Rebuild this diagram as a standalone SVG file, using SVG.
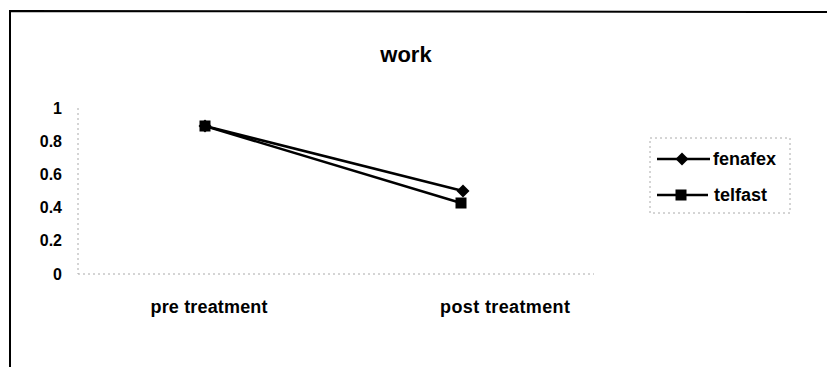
<svg xmlns="http://www.w3.org/2000/svg" width="827" height="367" viewBox="0 0 827 367">
<style>
  text { font-family: "Liberation Sans", Arial, sans-serif; fill: #000; }
  .lbl { font-size: 16px; font-weight: bold; text-anchor: end; }
  .cat { font-size: 18px; font-weight: bold; text-anchor: middle; }
  .leg { font-size: 18px; font-weight: bold; }
  .title { font-size: 22px; font-weight: bold; text-anchor: middle; }
  .axis { stroke: #aaaaaa; stroke-width: 1; stroke-dasharray: 2 3; fill: none; }
  .series { stroke: #000; stroke-width: 2.5; fill: none; }
  .frame { stroke: #000; stroke-width: 2; fill: none; }
</style>
<defs>
  <path id="diamond" d="M0,-6.5 L6.5,0 L0,6.5 L-6.5,0 Z" fill="#000"/>
  <rect id="square" x="-5.5" y="-5.5" width="11" height="11" fill="#000"/>
</defs>
<rect width="827" height="367" fill="#fff"/>
<g id="frame">
  <path class="frame" d="M10,367 L10,11 L827,12"/>
</g>
<g id="title"><text class="title" x="406" y="62">work</text></g>
<g id="axes">
  <line class="axis" x1="78" y1="108" x2="78" y2="274"/>
  <line class="axis" x1="78" y1="274" x2="594" y2="274"/>
  <text class="lbl" x="62" y="114">1</text>
  <text class="lbl" x="62" y="147">0.8</text>
  <text class="lbl" x="62" y="180">0.6</text>
  <text class="lbl" x="62" y="213">0.4</text>
  <text class="lbl" x="62" y="246">0.2</text>
  <text class="lbl" x="62" y="280">0</text>
  <text class="cat" x="209" y="313" textLength="117">pre treatment</text>
  <text class="cat" x="505" y="313" textLength="130">post treatment</text>
</g>
<g id="connectors">
  <line class="series" x1="205" y1="126" x2="463" y2="191"/>
  <line class="series" x1="205" y1="126" x2="461" y2="203"/>
</g>
<g id="fenafex-points">
  <use href="#diamond" x="205" y="126"/>
  <use href="#diamond" x="463" y="191"/>
</g>
<g id="telfast-points">
  <use href="#square" x="205" y="126"/>
  <use href="#square" x="461" y="203"/>
</g>
<g id="legend">
  <rect x="650" y="138" width="140" height="75" fill="none" stroke="#aaa" stroke-width="1" stroke-dasharray="2 3"/>
  <line class="series" x1="657" y1="159" x2="710" y2="159"/>
  <use href="#diamond" x="682" y="159"/>
  <text class="leg" x="713" y="165">fenafex</text>
  <line class="series" x1="657" y1="195" x2="708" y2="195"/>
  <use href="#square" x="681" y="195"/>
  <text class="leg" x="714" y="201">telfast</text>
</g>
</svg>
